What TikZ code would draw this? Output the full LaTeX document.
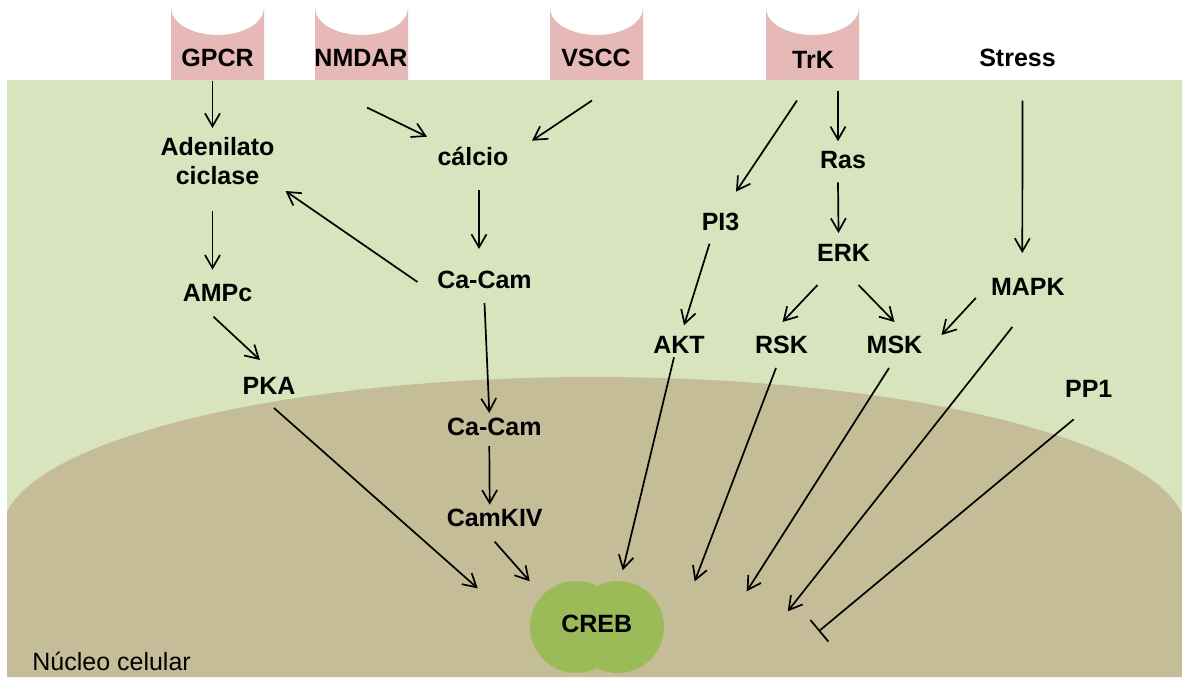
\documentclass[tikz,border=0pt]{standalone}
\usepackage{fontspec}
\setmainfont{Liberation Sans}
\usetikzlibrary{arrows.meta,calc}
\definecolor{cytoplasm}{HTML}{D7E4BD}
\definecolor{nucleus}{HTML}{C4BD97}
\definecolor{receptor}{HTML}{E6B9B8}
\definecolor{crebgreen}{HTML}{9BBB59}
\tikzset{
  mol/.style={inner sep=0pt, font=\fontsize{12.5}{14.25}\selectfont\bfseries, text height=9pt, text depth=0pt},
  molpair/.style={inner sep=0pt, align=center, font=\fontsize{12.5}{14.75}\selectfont\bfseries},
  act/.style={-{Straight Barb[length=6.5pt,width=7.5pt]}, line width=0.85pt},
  inh/.style={-{Bar[width=14pt]}, line width=0.85pt}
}
\begin{document}
\begin{tikzpicture}[x=0.5pt,y=-0.5pt]
      \useasboundingbox (0,0) rectangle (1182,677);
      \foreach \rx in {171,315,550,766}
        \fill[receptor] (\rx,80) -- (\rx,8)
          arc[start angle=180,end angle=360,x radius=23.25pt,y radius=13.5pt]
          -- (\rx+93,80) -- cycle;
      \fill[cytoplasm] (7,80) rectangle (1182,677);
      \begin{scope}
        \clip (7,80) rectangle (1182,677);
        \fill[nucleus] (2,677) -- (2,532)
          arc[start angle=180,end angle=0,x radius=296pt,y radius=77.5pt]
          -- (1186,677) -- cycle;
      \end{scope}
      \fill[crebgreen] (576,627) circle[radius=23pt] (618,627) circle[radius=23pt];
      \draw
        (217.5,57.5) node[mol] (gpcr){GPCR}
        (361,57.5) node[mol] (nmdar){NMDAR}
        (596,57.5) node[mol] (vscc){VSCC}
        (813,59.5) node[mol] (trk){TrK}
        (1017.5,57.5) node[mol] (stress){Stress}
        (217.5,161) node[molpair] (adc){Adenilato\\ciclase}
        (473,156.7) node[mol] (calcio){cálcio}
        (484.5,279) node[mol] (cacam){Ca-Cam}
        (217.5,292.7) node[mol] (ampc){AMPc}
        (269,385) node[mol] (pka){PKA}
        (494.3,426) node[mol] (cacamb){Ca-Cam}
        (494.7,517.7) node[mol] (camkiv){CamKIV}
        (843,159.3) node[mol] (ras){Ras}
        (720.5,221.7) node[mol] (pi3){PI3}
        (843.5,252) node[mol] (erk){ERK}
        (1027.8,286) node[mol] (mapk){MAPK}
        (679,344.3) node[mol] (akt){AKT}
        (781.5,344) node[mol] (rsk){RSK}
        (894.5,344) node[mol] (msk){MSK}
        (1088.7,388.3) node[mol] (pp1){PP1}
        (596.7,623.3) node[mol] (creb){CREB}
        (32,670) node[anchor=base west, inner sep=0pt, font=\fontsize{12.5}{15}\selectfont] (nuc){Núcleo celular};
      \begin{scope}[act]
        \draw ($(gpcr)+(-5,23)$) to ($(adc)+(-5,-33)$);
        \draw ($(nmdar)+(6,50)$) to ($(calcio)+(-46,-20)$);
        \draw ($(vscc)+(-4,43)$) to ($(calcio)+(59,-16)$);
        \draw ($(calcio)+(6,33)$) to ($(cacam)+(-5.5,-30)$);
        \draw ($(cacam)+(-67,3)$) to ($(adc)+(68,30)$);
        \draw ($(adc)+(-5,50)$) to ($(ampc)+(-5,-23)$);
        \draw ($(ampc)+(-4,24)$) to ($(pka)+(-9,-25)$);
        \draw ($(pka)+(5,23)$) to ($(creb)+(-119,-35)$);
        \draw ($(cacam)+(0,24)$) to ($(cacamb)+(-5,-13)$);
        \draw ($(cacamb)+(-5,20)$) to ($(camkiv)+(-5,-13)$);
        \draw ($(camkiv)+(0,24)$) to ($(creb)+(-67,-42)$);
        \draw ($(trk)+(-16,41)$) to ($(pi3)+(15.5,-30)$);
        \draw ($(trk)+(25,31)$) to ($(ras)+(-5,-18)$);
        \draw ($(ras)+(-5,23)$) to ($(erk)+(-5,-19)$);
        \draw ($(pi3)+(-11,22)$) to ($(akt)+(5,-19)$);
        \draw ($(erk)+(-26,33)$) to ($(rsk)+(1,-22)$);
        \draw ($(erk)+(15,33)$) to ($(msk)+(0,-22)$);
        \draw ($(stress)+(5,43)$) to ($(mapk)+(-5.5,-33)$);
        \draw ($(mapk)+(-52,12)$) to ($(msk)+(47,-9)$);
        \draw ($(akt)+(-5,13)$) to ($(creb)+(26,-53)$);
        \draw ($(rsk)+(-5.5,24)$) to ($(creb)+(98,-42)$);
        \draw ($(msk)+(-5.5,24)$) to ($(creb)+(150,-32)$);
        \draw ($(mapk)+(-15.5,41)$) to ($(creb)+(191,-12)$);
      \end{scope}
      \draw[inh] ($(pp1)+(-15,31)$) to ($(creb)+(222,8)$);
    \end{tikzpicture}
\end{document}
